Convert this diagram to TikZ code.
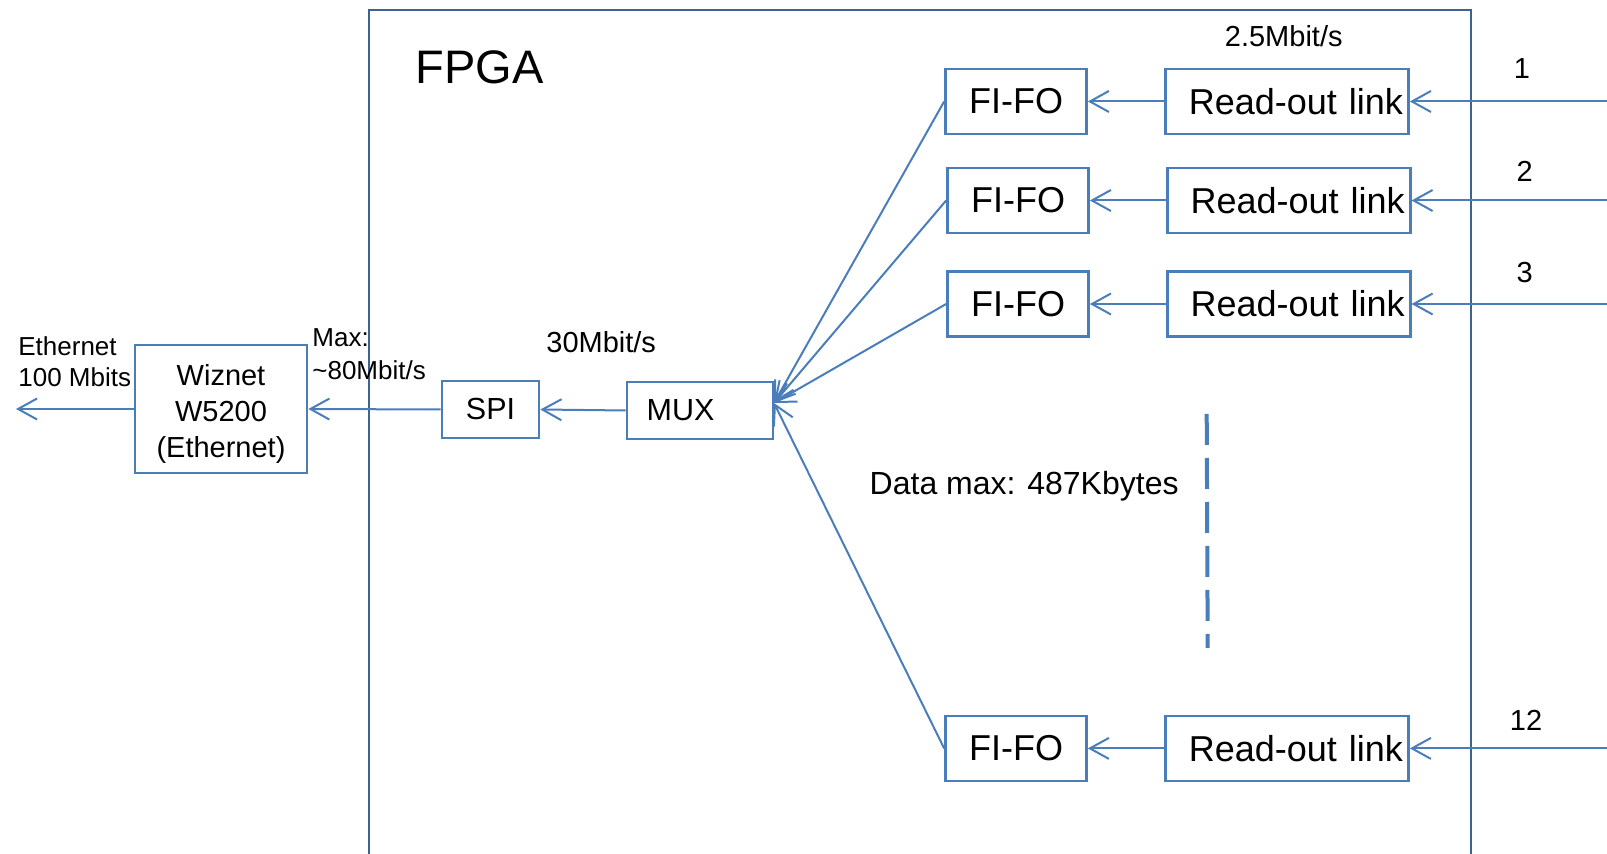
\documentclass[tikz,border=0pt]{standalone}
\usepackage{fontspec}
\setmainfont{Liberation Sans}
\usetikzlibrary{arrows.meta}
\definecolor{linkblue}{RGB}{74,126,187}
\definecolor{fpgablue}{RGB}{62,98,148}
\begin{document}
\begin{tikzpicture}[x=0.5pt,y=-0.5pt,
  box/.style={draw=linkblue,line width=1.35pt,inner sep=0pt,minimum height=32.5pt},
  fifo/.style={box,minimum width=70.5pt,font=\fontsize{18}{21}\selectfont},
  rol/.style={box,font=\fontsize{18}{21}\selectfont,inner xsep=2.75pt,text width=116pt,align=right},
  link/.style={draw=linkblue,line width=1pt},
  arr/.style={link,-{Straight Barb[length=9.5pt,width=10.5pt]}},
  lbl/.style={inner sep=0pt,anchor=base west},
  num/.style={inner sep=0pt,anchor=base,font=\fontsize{14.5}{17}\selectfont}
]
\useasboundingbox (0,0) rectangle (1607,854);

% FPGA frame, open at the bottom edge
\draw[fpgablue,line width=1.35pt] (369,854) -- (369,10) -- (1471,10) -- (1471,854);

% Ethernet chip, SPI and multiplexer
\node[box,minimum width=86pt,minimum height=64pt,
      label={[inner sep=0pt,yshift=-2.5pt,align=center,font=\fontsize{14.5}{18}\selectfont]center:Wiznet\\W5200\\(Ethernet)}]
      (wiz) at (221,409) {};
\node[box,minimum width=48.5pt,minimum height=28.5pt,
      font=\fontsize{15.25}{18}\selectfont] (spi) at (490.5,409.5) {SPI};
\node[box,minimum width=73pt,minimum height=28.5pt,inner xsep=9.85pt,text width=53.3pt,
      align=left,font=\fontsize{15.25}{18}\selectfont] (mux) at (700,410.5) {MUX};

% FIFO and read-out link channels
\node[fifo] (f1)  at (1016,101.5) {FI-FO};
\node[rol]  (r1)  at (1287,101.5) {Read-out link};
\node[fifo] (f2)  at (1018,200.5) {FI-FO};
\node[rol]  (r2)  at (1288.7,200.5) {Read-out link};
\node[fifo] (f3)  at (1018,304) {FI-FO};
\node[rol]  (r3)  at (1288.7,304) {Read-out link};
\node[fifo] (f12) at (1016,748.4) {FI-FO};
\node[rol]  (r12) at (1287,748.4) {Read-out link};

% free ends of the connectors
\coordinate (eth) at (16,409);
\coordinate (mx)  at (774,403);
\coordinate (in1)  at (1607,101.5);
\coordinate (in2)  at (1607,200.5);
\coordinate (in3)  at (1607,304);
\coordinate (in12) at (1607,748.4);

% connectors
\draw[arr] (wiz.west) -- (eth);
\draw[arr] (spi.west) -- (wiz.east);
\draw[arr] (mux.west) -- (spi.east);
\foreach \c in {1,2,3,12}{
  \draw[arr] (f\c.west) -- (mx);
  \draw[arr] (r\c.west) -- (f\c.east);
  \draw[arr] (in\c) -- (r\c.east);
}

% channels left out between 3 and 12
\draw[linkblue,line width=2pt,dash pattern=on 15.5pt off 6.5pt] (1206.7,414) -- (1207.7,648);

% labels
\node[lbl,font=\fontsize{23.5}{28}\selectfont] (fpga) at (415,83.3) {FPGA};
\node[lbl,font=\fontsize{14.5}{17}\selectfont] (rate1) at (1224.5,47) {2.5Mbit/s};
\node[lbl,font=\fontsize{14.5}{17}\selectfont] (rate2) at (546,353) {30Mbit/s};
\node[lbl,font=\fontsize{16}{19}\selectfont] (dmax) at (869.3,495) {Data max: 487Kbytes};
\node[num] (n1)  at (1522,79) {1};
\node[num] (n2)  at (1524.6,181.7) {2};
\node[num] (n3)  at (1524.6,283) {3};
\node[num] (n12) at (1526,730.7) {12};
\node[inner sep=0pt,anchor=north west,align=left,font=\fontsize{13}{15.5}\selectfont]
  (ethl) at (18,336) {Ethernet\\100 Mbits};
\node[inner sep=0pt,anchor=north west,align=left,font=\fontsize{13}{16.5}\selectfont]
  (maxl) at (312,328) {Max:\\\textasciitilde 80Mbit/s};
\end{tikzpicture}
\end{document}
